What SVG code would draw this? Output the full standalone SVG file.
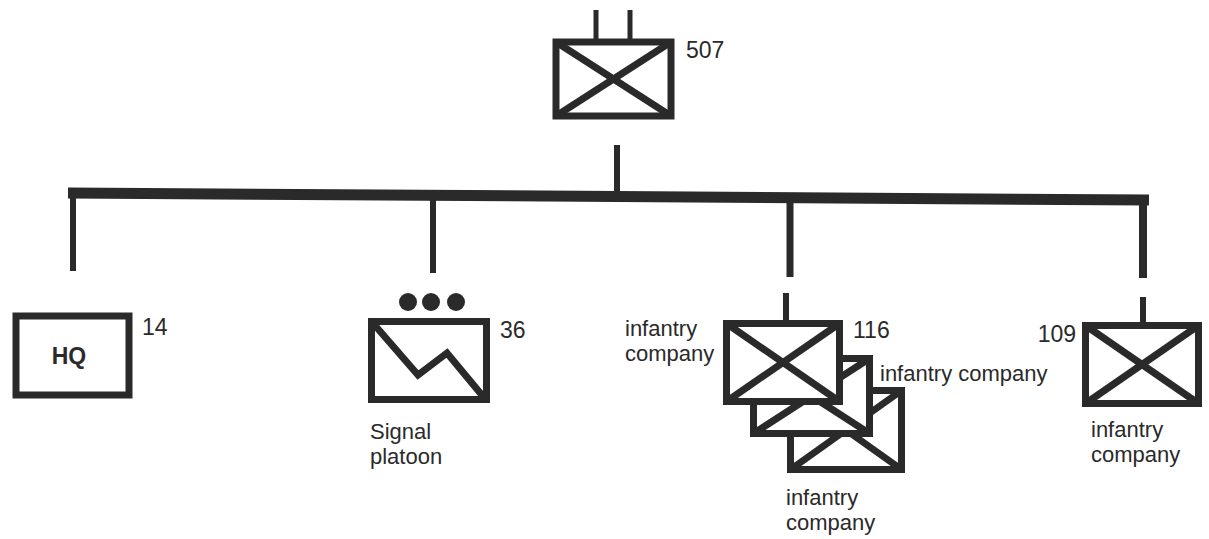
<svg xmlns="http://www.w3.org/2000/svg" width="1209" height="539" viewBox="0 0 1209 539">
<style>
.ln{stroke:#2a2a2a;fill:none;stroke-linecap:butt}
.box{stroke:#2a2a2a;fill:#fff;stroke-width:7}
.x{stroke:#2a2a2a;stroke-width:7}
text{font-family:"Liberation Sans",Arial,sans-serif;font-size:22px;fill:#2a2a2a}
</style>
<rect width="1209" height="539" fill="#fff"/>
<g id="connectors">
<line class="ln" x1="617" y1="145" x2="617" y2="195" stroke-width="6"/>
<line class="ln" x1="68" y1="193" x2="1149" y2="200" stroke-width="11"/>
<line class="ln" x1="73" y1="193" x2="73" y2="271" stroke-width="6"/>
<line class="ln" x1="433" y1="196" x2="433" y2="273" stroke-width="6"/>
<line class="ln" x1="790" y1="198" x2="790" y2="277" stroke-width="7"/>
<line class="ln" x1="1143" y1="199" x2="1143" y2="278" stroke-width="8"/>
</g>
<g id="n507">
<line class="ln" x1="596" y1="10" x2="596" y2="42" stroke-width="5"/>
<line class="ln" x1="630" y1="10" x2="630" y2="42" stroke-width="5"/>
<rect class="box" x="556" y="42" width="115" height="74" stroke-width="8"/>
<line class="x" x1="556" y1="42" x2="671" y2="116"/>
<line class="x" x1="556" y1="116" x2="671" y2="42"/>
<text x="686" y="58" style="font-size:23px">507</text>
</g>
<g id="hq">
<rect class="box" x="16" y="316" width="113" height="79" stroke-width="6"/>
<text x="69" y="364" text-anchor="middle" font-weight="bold" style="font-size:23px">HQ</text>
<text x="142" y="335" style="font-size:23px">14</text>
</g>
<g id="signal">
<circle cx="408" cy="302" r="9" fill="#2a2a2a"/>
<circle cx="431" cy="302" r="9" fill="#2a2a2a"/>
<circle cx="456" cy="302" r="9" fill="#2a2a2a"/>
<rect class="box" x="371.5" y="321.5" width="115" height="78"/>
<polyline class="ln" points="372,322 418,375 447,353 486,400" stroke-width="7"/>
<text x="500" y="338" style="font-size:23px">36</text>
<text x="370" y="439">Signal</text>
<text x="370" y="464">platoon</text>
</g>
<g id="infantry116">
<line class="ln" x1="786" y1="293" x2="786" y2="324" stroke-width="6"/>
<rect class="box" x="790.5" y="390.5" width="111" height="79"/>
<line class="x" x1="790.5" y1="390.5" x2="901.5" y2="469.5"/>
<line class="x" x1="790.5" y1="469.5" x2="901.5" y2="390.5"/>
<rect class="box" x="753.5" y="358.5" width="116" height="75"/>
<line class="x" x1="753.5" y1="358.5" x2="869.5" y2="433.5"/>
<line class="x" x1="753.5" y1="433.5" x2="869.5" y2="358.5"/>
<rect class="box" x="726.5" y="323.5" width="113" height="78"/>
<line class="x" x1="726.5" y1="323.5" x2="839.5" y2="401.5"/>
<line class="x" x1="726.5" y1="401.5" x2="839.5" y2="323.5"/>
<text x="625" y="336">infantry</text>
<text x="625" y="361">company</text>
<text x="853" y="338" style="font-size:23px">116</text>
<text x="880" y="381">infantry company</text>
<text x="786" y="505">infantry</text>
<text x="786" y="530">company</text>
</g>
<g id="infantry109">
<line class="ln" x1="1143" y1="297" x2="1143" y2="326" stroke-width="6"/>
<rect class="box" x="1085.5" y="325.5" width="113" height="78"/>
<line class="x" x1="1085.5" y1="325.5" x2="1198.5" y2="403.5"/>
<line class="x" x1="1085.5" y1="403.5" x2="1198.5" y2="325.5"/>
<text x="1076" y="342" text-anchor="end" style="font-size:23px">109</text>
<text x="1091" y="437">infantry</text>
<text x="1091" y="462">company</text>
</g>
</svg>
